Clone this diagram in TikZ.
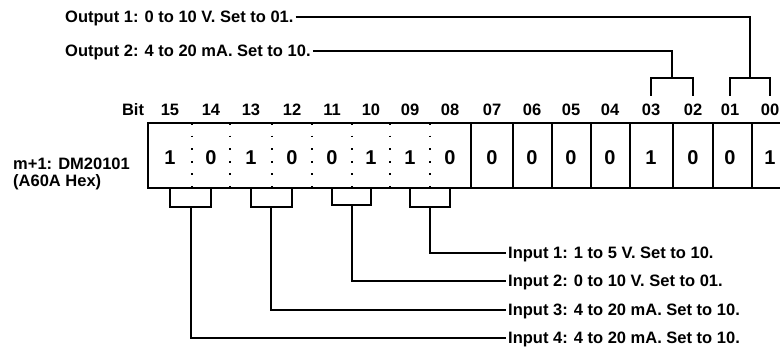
\documentclass[tikz,border=0pt]{standalone}
\usepackage{fontspec}
\setmainfont{Liberation Sans}

\tikzset{
    txt/.style = {font = {\fontsize{16.5}{18}\selectfont\bfseries}, inner sep = 2pt, text height = 12pt, text depth = 0pt},
    bitno/.style = {font = {\fontsize{16.5}{18}\selectfont\bfseries}, inner sep = 0pt},
    digit/.style = {font = {\fontsize{20}{22}\selectfont\bfseries}, inner sep = 0pt},
    wire/.style = {line width = 1.6pt},
    hook/.style = {line width = 2pt},
    dotline/.style = {line width = 1.8pt, dash pattern = on 1.8pt off 10.8pt},
}

\begin{document}
\begin{tikzpicture}[x = 1pt, y = -1pt]
    \useasboundingbox (0, 0) rectangle (780, 352);
    \clip (0, 0) rectangle (780, 352);

    % register frame and dividers
    \draw[hook] (148, 123) rectangle (800, 188);
    \foreach \x in {192, 230, 272, 312, 352, 390, 430}
        \draw[dotline] (\x, 123) -- (\x, 188);
    \foreach \x in {471, 513, 552, 591, 630, 673, 713, 752}
        \draw[hook] (\x, 123) -- (\x, 188);

    % bit numbers and contents
    \node[bitno] (bitlbl) at (133, 110) {Bit};
    \foreach \b/\x/\v in {15/170/1, 14/211/0, 13/251/1, 12/292/0, 11/332/0, 10/371/1,
                          09/410/1, 08/450/0, 07/492/0, 06/532/0, 05/571/0, 04/610/0,
                          03/651/1, 02/693/0, 01/730/0, 00/770/1} {
        \node[bitno] (n\b) at (\x, 110) {\b};
        \node[digit] (d\b) at (\x, 158) {\v};
    }

    \node[txt, anchor = west] (reg) at (11, 164) {m+1: DM20101};
    \node[txt, anchor = west] (hex) at (11, 181) {(A60A Hex)};

    % output settings
    \node[txt, anchor = west] (out1) at (63, 17) {Output 1: 0 to 10 V. Set to 01.};
    \node[txt, anchor = west] (out2) at (63, 51) {Output 2: 4 to 20 mA. Set to 10.};

    \draw[hook] (n03.center |- 0, 96) -- (n03.center |- 0, 78) -- (n02.center |- 0, 78) -- (n02.center |- 0, 96);
    \draw[hook] (n01.center |- 0, 96) -- (n01.center |- 0, 78) -- (n00.center |- 0, 78) -- (n00.center |- 0, 96);
    \draw[wire] (out1.east) -- (750, 17) -- (750, 78);
    \draw[wire] (out2.east) -- (672, 51) -- (672, 78);

    % input settings
    \node[txt, anchor = west] (in1) at (506, 253) {Input 1: 1 to 5 V. Set to 10.};
    \node[txt, anchor = west] (in2) at (506, 281) {Input 2: 0 to 10 V. Set to 01.};
    \node[txt, anchor = west] (in3) at (506, 310) {Input 3: 4 to 20 mA. Set to 10.};
    \node[txt, anchor = west] (in4) at (506, 338) {Input 4: 4 to 20 mA. Set to 10.};

    \draw[hook] (d15.center |- 0, 188) -- (d15.center |- 0, 207) -- (d14.center |- 0, 207) -- (d14.center |- 0, 188);
    \draw[hook] (d13.center |- 0, 188) -- (d13.center |- 0, 207) -- (d12.center |- 0, 207) -- (d12.center |- 0, 188);
    \draw[hook] (d11.center |- 0, 188) -- (d11.center |- 0, 205) -- (d10.center |- 0, 205) -- (d10.center |- 0, 188);
    \draw[hook] (d09.center |- 0, 188) -- (d09.center |- 0, 207) -- (d08.center |- 0, 207) -- (d08.center |- 0, 188);

    \draw[wire] (191, 207) -- (191, 338) -- (in4.west);
    \draw[wire] (271, 207) -- (271, 310) -- (in3.west);
    \draw[wire] (352, 205) -- (352, 281) -- (in2.west);
    \draw[wire] (430, 207) -- (430, 253) -- (in1.west);
\end{tikzpicture}
\end{document}
